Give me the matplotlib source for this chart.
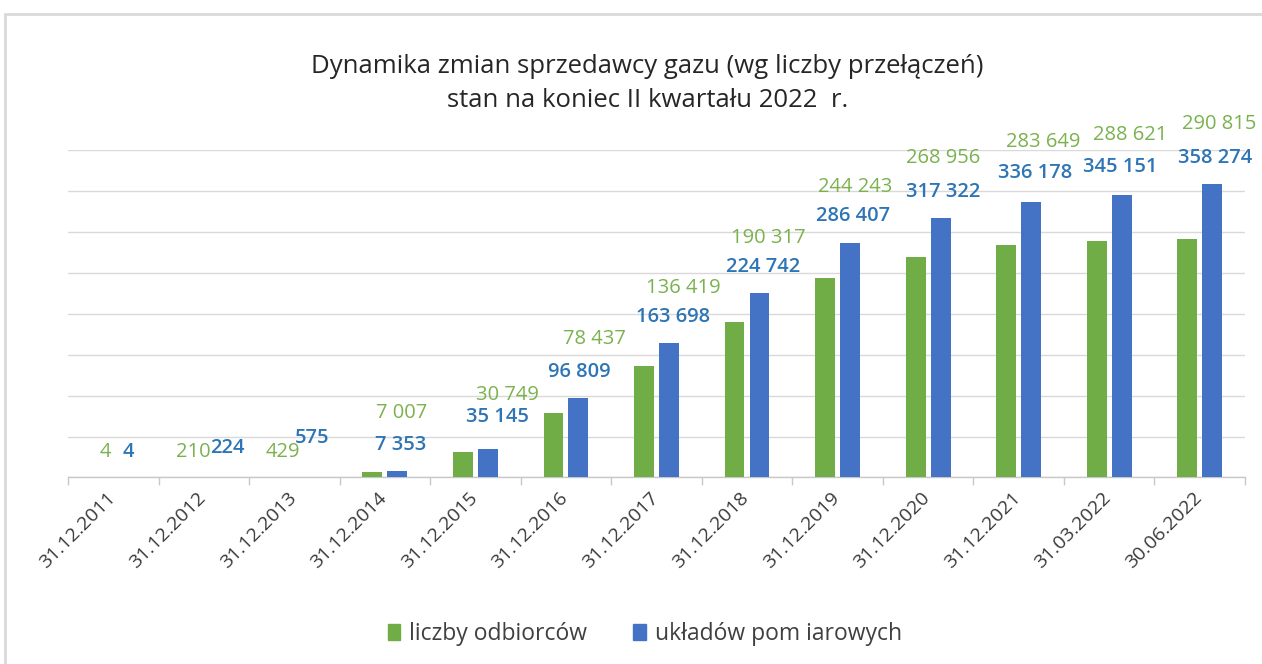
import numpy as np
import matplotlib.pyplot as plt
import matplotlib.patches as mpatches

# ---------- Data ----------
dates = ["31.12.2011", "31.12.2012", "31.12.2013", "31.12.2014", "31.12.2015",
         "31.12.2016", "31.12.2017", "31.12.2018", "31.12.2019", "31.12.2020",
         "31.12.2021", "31.03.2022", "30.06.2022"]
odbiorcy = [4, 210, 429, 7007, 30749, 78437, 136419, 190317, 244243, 268956,
            283649, 288621, 290815]
uklady = [4, 224, 575, 7353, 35145, 96809, 163698, 224742, 286407, 317322,
          336178, 345151, 358274]

# label placement as in the source (labels were moved by hand there)
green_lab_dx = [-0.09, -0.12, -0.124, 0.19, 0.35, 0.31, 0.30, 0.235, 0.196, 0.169, 0.273, 0.235, 0.22]
green_lab_y = [31100, 31100, 31100, 78800, 100800, 169200, 231500, 292500, 354800, 390200, 409800, 418300, 431800]
blue_lab_dx = [0.163, 0.257, 0.196, 0.169, 0.24, 0.146, 0.185, 0.18, 0.174, 0.169, 0.185, 0.124, 0.174]
blue_lab_y = [31100, 36000, 48200, 39700, 73900, 128900, 196000, 257100, 319400, 348700, 371900, 379200, 390200]

title = "Dynamika zmian sprzedawcy gazu (wg liczby przełączeń)\nstan na koniec II kwartału 2022  r."
legend_names = ["liczby odbiorców", "układów pom iarowych"]

GREEN = "#70ad47"
BLUE = "#4472c4"
GREEN_TXT = "#7ab24e"
BLUE_TXT = "#2e75b6"

plt.rcParams["font.family"] = ["Open Sans", "DejaVu Sans"]


def fmt(v):
    return f"{v:,}".replace(",", " ")


# ---------- Figure ----------
fig = plt.figure(figsize=(12.62, 6.64), dpi=100)
ax = fig.add_axes([0.0539, 0.2809, 0.9326, 0.4932])

x = np.arange(len(dates))
w = 0.22
off = 0.138
ax.bar(x - off, odbiorcy, width=w, color=GREEN, zorder=3)
ax.bar(x + off, uklady, width=w, color=BLUE, zorder=3)

ax.set_xlim(-0.5, len(dates) - 0.5)
ax.set_ylim(0, 400000)
ax.set_yticks(np.arange(0, 400001, 50000))
ax.yaxis.grid(True, color="#d9d9d9", linewidth=1, zorder=0)
ax.tick_params(axis="y", left=False, labelleft=False)

for s in ["left", "right", "top"]:
    ax.spines[s].set_visible(False)
ax.spines["bottom"].set_color("#c8c8c8")
ax.spines["bottom"].set_linewidth(1)

ax.set_xticks(x + 0.06)
ax.set_xticklabels(dates, rotation=45, ha="right", fontsize=14, color="#3a3a3a")
ax.tick_params(axis="x", length=0, pad=8)
ax.set_xticks(np.arange(-0.5, len(dates), 1), minor=True)
ax.tick_params(axis="x", which="minor", length=6, color="#c8c8c8", width=1)

# ---------- Data labels ----------
for i in range(len(dates)):
    ax.text(x[i] + green_lab_dx[i], green_lab_y[i], fmt(odbiorcy[i]), ha="center", va="center",
            fontsize=14.5, color=GREEN_TXT, clip_on=False, zorder=4)
    ax.text(x[i] + blue_lab_dx[i], blue_lab_y[i], fmt(uklady[i]), ha="center", va="center",
            fontsize=14.5, color=BLUE_TXT, fontweight="semibold", clip_on=False, zorder=5)

# ---------- Title & legend ----------
fig.text(0.513, 0.874, title, ha="center", va="center", fontsize=18.5, color="#262626",
         linespacing=1.5)

handles = [mpatches.Patch(color=GREEN, label=legend_names[0]),
           mpatches.Patch(color=BLUE, label=legend_names[1])]
fig.legend(handles=handles, loc="center", bbox_to_anchor=(0.511, 0.045), ncol=2,
           frameon=False, fontsize=16.5, handlelength=0.55, handleheight=0.7,
           handletextpad=0.4, columnspacing=2.0, labelcolor="#404040")

# chart area frame
fig.patches.append(mpatches.Rectangle((5 / 1262, -0.05), 1.1, 1 - 14 / 664 + 0.05,
                                      transform=fig.transFigure, fill=False,
                                      edgecolor="#d9d9d9", linewidth=2))

fig.savefig("out.png", dpi=100)
